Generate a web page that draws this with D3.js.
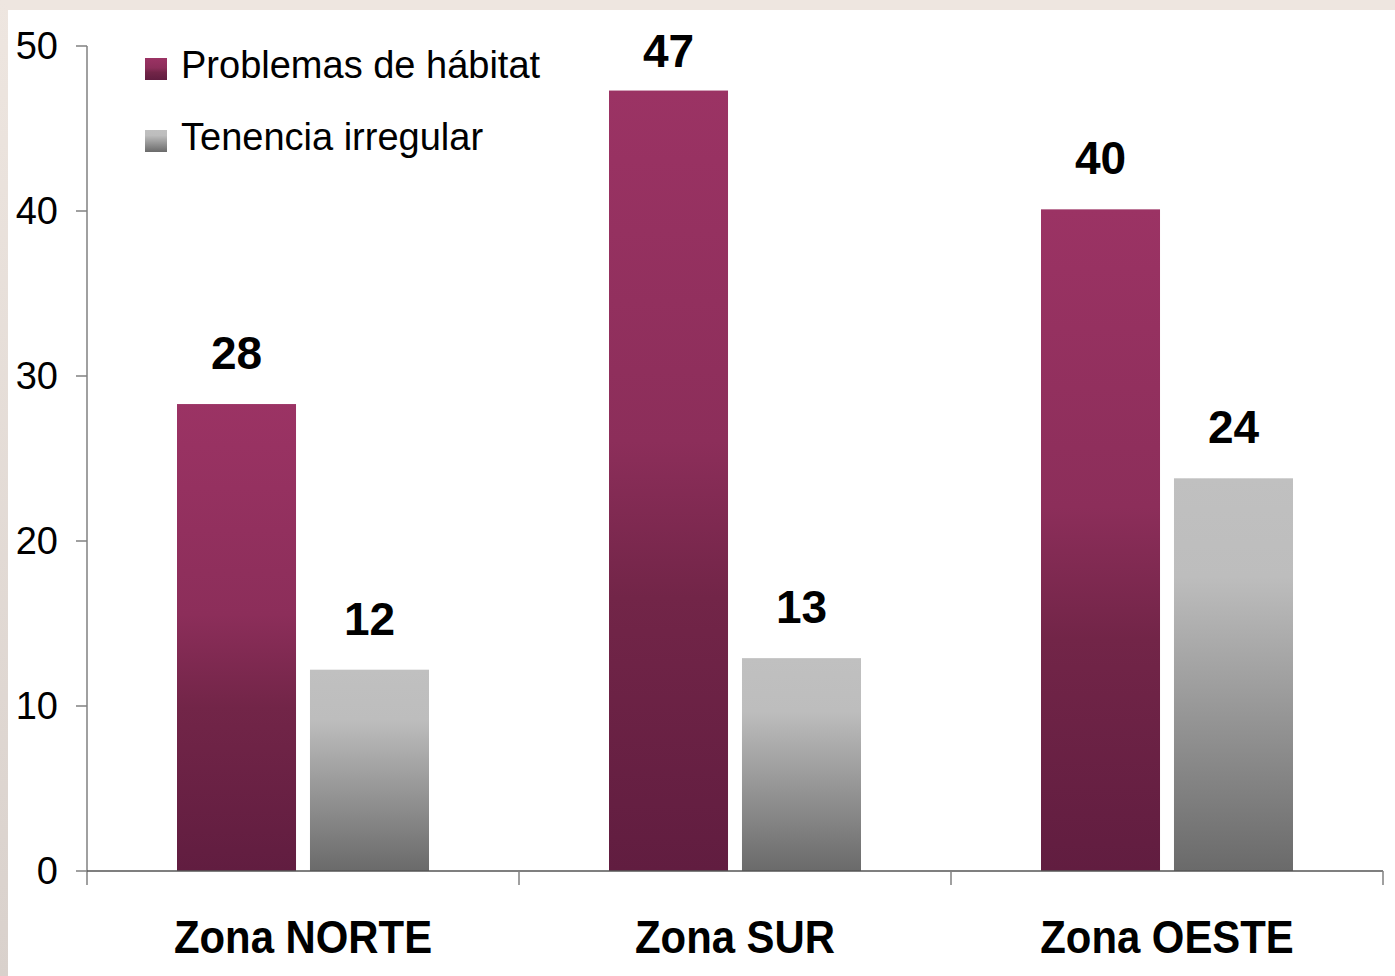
<!DOCTYPE html>
<html>
<head>
<meta charset="utf-8">
<script src="https://cdn.jsdelivr.net/npm/d3@7"></script>
<style>
  body { margin: 0; background: #eee6e0; }
  svg { display: block; }
</style>
</head>
<body>
<svg width="1395" height="976"></svg>
<script>
const width = 1395;
const height = 976;

const zonas = ["Zona NORTE", "Zona SUR", "Zona OESTE"];
const series = ["Problemas de hábitat", "Tenencia irregular"];
const habitat = [28.3, 47.3, 40.1];
const tenencia = [12.2, 12.9, 23.8];
const yTicks = [0, 10, 20, 30, 40, 50];
const labels = [[28, 12], [47, 13], [40, 24]];

const svg = d3.select("svg");
const defs = svg.append("defs");

// fondo: franja beige arriba y a la izquierda
const bgGrad = defs.append("linearGradient").attr("id", "leftStrip")
  .attr("x1", 0).attr("y1", 0).attr("x2", 0).attr("y2", 1);
bgGrad.append("stop").attr("offset", "0%").attr("stop-color", "#eee6e0");
bgGrad.append("stop").attr("offset", "100%").attr("stop-color", "#d9d1cc");
svg.append("rect").attr("width", width).attr("height", height).attr("fill", "#eee6e0");
svg.append("rect").attr("x", 0).attr("y", 0).attr("width", 8).attr("height", height).attr("fill", "url(#leftStrip)");
svg.append("rect").attr("x", 8).attr("y", 10).attr("width", width - 8).attr("height", height - 10).attr("fill", "#fff");

const gradMaroon = defs.append("linearGradient").attr("id", "gMaroon")
  .attr("x1", 0).attr("y1", 0).attr("x2", 0).attr("y2", 1);
[["0%", "#9b3364"], ["45%", "#8c2e5a"], ["65%", "#722548"], ["100%", "#611d40"]]
  .forEach(s => gradMaroon.append("stop").attr("offset", s[0]).attr("stop-color", s[1]));

const gradGray = defs.append("linearGradient").attr("id", "gGray")
  .attr("x1", 0).attr("y1", 0).attr("x2", 0).attr("y2", 1);
[["0%", "#c0c0c0"], ["25%", "#bdbdbd"], ["100%", "#6a6a6a"]]
  .forEach(s => gradGray.append("stop").attr("offset", s[0]).attr("stop-color", s[1]));

const fills = ["url(#gMaroon)", "url(#gGray)"];

const x0 = d3.scaleBand().domain(zonas).range([87, 1383]).paddingInner(0).paddingOuter(0);
const x1 = d3.scaleBand().domain(series).range([90, 342]).paddingInner(0.105);
const y = d3.scaleLinear().domain([0, 50]).range([871, 46]);

const font = "'Liberation Sans', Arial, sans-serif";

// eje Y
svg.append("line").attr("x1", 87).attr("x2", 87).attr("y1", y(50)).attr("y2", 885)
  .attr("stroke", "#808080").attr("stroke-width", 1.5);
svg.append("g").selectAll("line").data(yTicks).enter().append("line")
  .attr("x1", 76).attr("x2", 87).attr("y1", d => y(d)).attr("y2", d => y(d))
  .attr("stroke", "#808080").attr("stroke-width", 1.5);
svg.append("g").selectAll("text").data(yTicks).enter().append("text")
  .attr("x", 58).attr("y", d => y(d)).attr("dy", "0.35em")
  .attr("text-anchor", "end")
  .style("font-family", font).style("font-size", "38px").attr("fill", "#000")
  .text(d => d);

// barras
const data = zonas.map((z, i) => ({ zona: z, values: [habitat[i], tenencia[i]], labels: labels[i] }));
const groups = svg.append("g").selectAll("g").data(data).enter().append("g")
  .attr("transform", d => `translate(${x0(d.zona)},0)`);

groups.selectAll("rect").data(d => d.values.map((v, j) => ({ v, j, s: series[j] }))).enter().append("rect")
  .attr("x", d => x1(d.s))
  .attr("width", x1.bandwidth())
  .attr("y", d => y(d.v))
  .attr("height", d => y(0) - y(d.v))
  .attr("fill", d => fills[d.j]);

groups.selectAll("text.val").data(d => d.values.map((v, j) => ({ v, j, s: series[j], lab: d.labels[j] }))).enter().append("text")
  .attr("class", "val")
  .attr("x", d => x1(d.s) + x1.bandwidth() / 2)
  .attr("y", d => Math.max(y(d.v) - 35, 67))
  .attr("text-anchor", "middle")
  .style("font-family", font).style("font-size", "46px").style("font-weight", "bold")
  .attr("fill", "#000")
  .text(d => d.lab);

// eje X
svg.append("line").attr("x1", 87).attr("x2", 1383).attr("y1", y(0)).attr("y2", y(0))
  .attr("stroke", "#555").attr("stroke-width", 1.5);
const catTicks = zonas.map(z => x0(z) + x0.bandwidth());
svg.append("g").selectAll("line").data(catTicks).enter().append("line")
  .attr("x1", d => d).attr("x2", d => d).attr("y1", y(0)).attr("y2", 885)
  .attr("stroke", "#808080").attr("stroke-width", 1.5);

svg.append("g").selectAll("text").data(zonas).enter().append("text")
  .attr("transform", d => `translate(${x0(d) + x0.bandwidth() / 2},953) scale(0.91,1)`)
  .attr("text-anchor", "middle")
  .style("font-family", font).style("font-size", "46px").style("font-weight", "bold")
  .attr("fill", "#000")
  .text(d => d);

// leyenda
const legend = svg.append("g").selectAll("g").data(series).enter().append("g")
  .attr("transform", (d, i) => `translate(145,${58 + i * 72})`);
legend.append("rect").attr("width", 22).attr("height", 22).attr("fill", (d, i) => fills[i]);
legend.append("text").attr("x", 36).attr("y", 20)
  .style("font-family", font).style("font-size", "38px").attr("fill", "#000")
  .text(d => d);
</script>
</body>
</html>
